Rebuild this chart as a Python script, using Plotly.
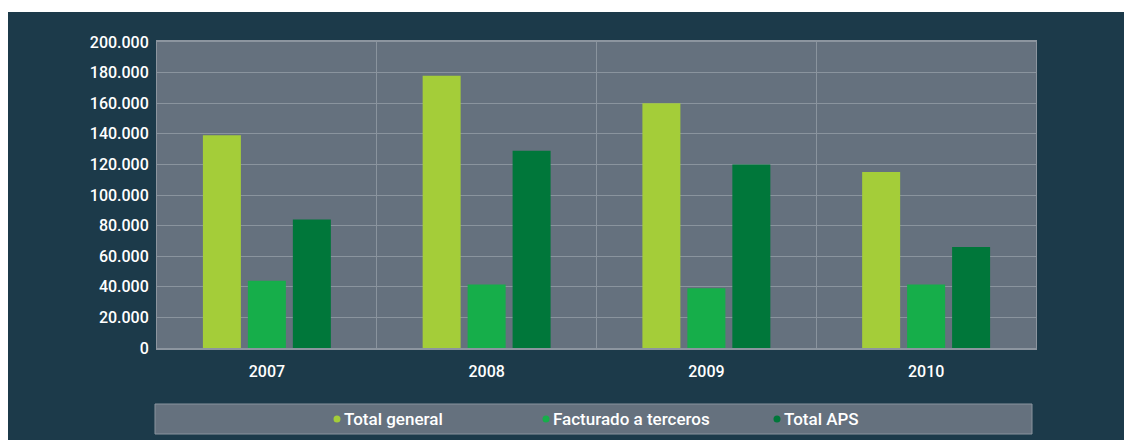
import plotly.graph_objects as go

years = ["2007", "2008", "2009", "2010"]
series_names = ["Total general", "Facturado a terceros", "Total APS"]
total_general = [139000, 178000, 160000, 115000]
facturado_terceros = [44000, 41500, 39000, 41500]
total_aps = [84000, 129000, 120000, 66000]
colors = ["#A4CD39", "#16AE4A", "#00773A"]

W, H = 1132, 440
OFF = 8  # page body margin
L, R, T, B = 157 - OFF, 1036 - OFF, 42 - OFF, 348 - OFF
pw, ph = R - L, B - T

def px(x):
    return (x - OFF - L) / pw

def py(y):
    return (B - (y - OFF)) / ph

FONT = "Roboto, Liberation Sans, sans-serif"

fig = go.Figure()
for name, vals, c in zip(series_names, [total_general, facturado_terceros, total_aps], colors):
    fig.add_trace(go.Bar(x=years, y=vals, name=name, marker=dict(color=c, line=dict(width=0)),
                         showlegend=False))

# legend box with dot + text entries
legend_dot_x = [337, 546, 777]
legend_y = 419
shapes = [
    dict(type="rect", xref="paper", yref="paper", x0=px(0), x1=px(1150), y0=py(12), y1=py(0),
         fillcolor="#FFFFFF", line=dict(width=0), layer="above"),
    dict(type="rect", xref="paper", yref="paper", x0=px(155), x1=px(1032), y0=py(434), y1=py(404),
         fillcolor="#65717E", line=dict(color="#8A949E", width=1), layer="below"),
]
annotations = []
for name, c, dx in zip(series_names, colors, legend_dot_x):
    shapes.append(dict(type="circle", xref="paper", yref="paper",
                       x0=px(dx - 3.5), x1=px(dx + 3.5), y0=py(legend_y + 3.5), y1=py(legend_y - 3.5),
                       fillcolor=c, line=dict(width=0), layer="above"))
    annotations.append(dict(text=name, xref="paper", yref="paper", x=px(dx + 5), y=py(legend_y),
                            xanchor="left", yanchor="middle", showarrow=False,
                            font=dict(family=FONT, size=17, color="#FFFFFF", weight=500)))

fig.update_layout(
    width=W, height=H,
    margin=dict(l=L, r=W - R, t=T, b=H - B, pad=0),
    paper_bgcolor="#1C3A4A",
    plot_bgcolor="#65717E",
    separators=",.",
    barmode="group",
    bargap=0.386,
    bargroupgap=0.155,
    showlegend=False,
    font=dict(family=FONT, color="#FFFFFF", size=16, weight=500),
    xaxis=dict(type="category", tickson="boundaries", showgrid=True, gridcolor="#8A949E",
               gridwidth=1, ticks="", showline=True, linecolor="#8C959F", linewidth=2,
               mirror=True, tickfont=dict(family=FONT, size=16, color="#FFFFFF", weight=500),
               ticklabelstandoff=8),
    yaxis=dict(range=[0, 200000], tickvals=list(range(0, 200001, 20000)), tickformat=",d",
               showgrid=True, gridcolor="#8A949E", gridwidth=1, zeroline=False,
               showline=True, linecolor="#8C959F", linewidth=1, mirror=True, ticks="",
               tickfont=dict(family=FONT, size=16, color="#FFFFFF", weight=500),
               ticklabelstandoff=4),
    shapes=shapes,
    annotations=annotations,
)

fig.write_html("out.html")
